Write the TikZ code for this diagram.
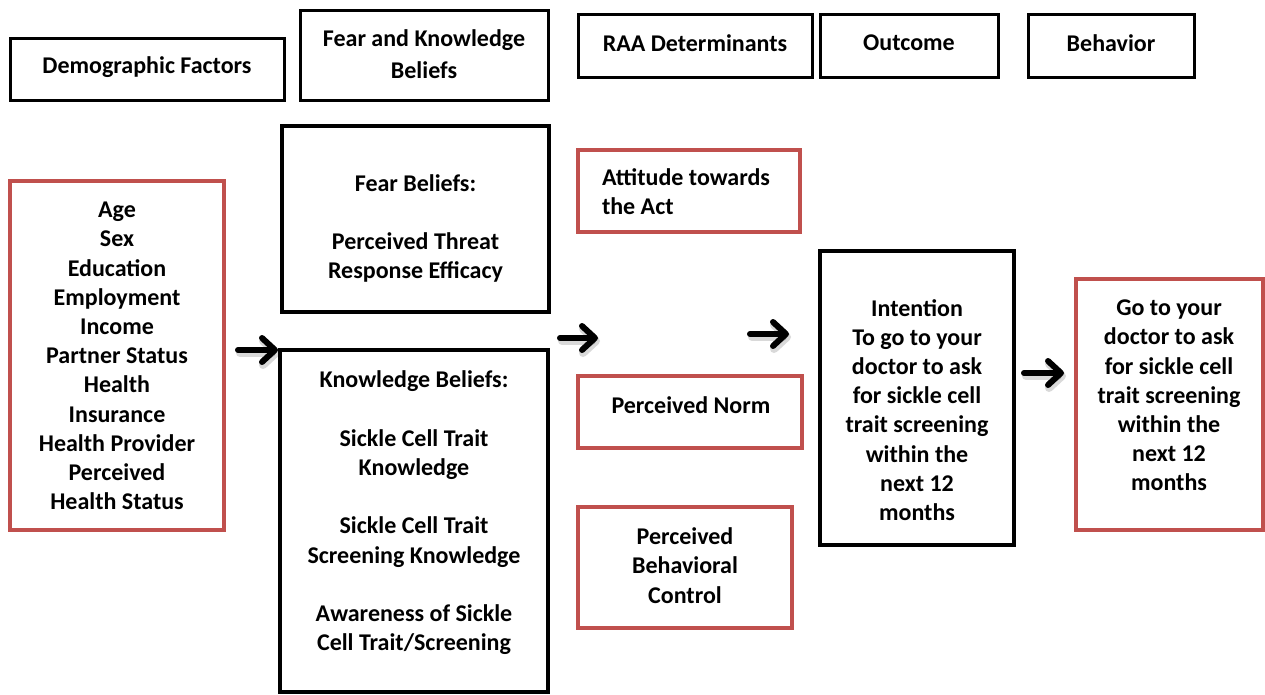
\documentclass[tikz,border=0pt]{standalone}
\usepackage{fontspec}
\setmainfont{Carlito}
\usetikzlibrary{arrows.meta}
\definecolor{boxred}{RGB}{192,80,77}
\tikzset{
  blackbox/.style={draw=black, line width=3pt, inner sep=0pt},
  redbox/.style={draw=boxred, line width=3.5pt, inner sep=0pt},
  txt/.style={font=\fontsize{24}{29.2}\selectfont\bfseries, align=center, inner sep=0pt},
  flow/.style={line width=6pt, line cap=round, -{Straight Barb[length=13pt,width=24pt,round]}},
  flowshadow/.style={flow, draw=black, opacity=0.15, line width=8pt}
}
\begin{document}
\begin{tikzpicture}[x=1pt,y=-1pt]
\useasboundingbox (0,0) rectangle (1265,694);

% column headings
\node[blackbox, minimum width=274, minimum height=62] (hdemo) at (147,69) {};
\node[txt] (hdemot) at (147,67) {Demographic Factors};
\node[blackbox, minimum width=248, minimum height=90] (hfear) at (424,55) {};
\node[txt, font=\fontsize{24}{32}\selectfont\bfseries] (hfeart) at (424,54) {Fear and Knowledge\\Beliefs};
\node[blackbox, minimum width=234, minimum height=63] (hraa) at (695,45.5) {};
\node[txt] (hraat) at (695,43) {RAA Determinants};
\node[blackbox, minimum width=178, minimum height=63] (hout) at (909,45.5) {};
\node[txt] (houtt) at (909,43) {Outcome};
\node[blackbox, minimum width=166, minimum height=63] (hbeh) at (1111,45.5) {};
\node[txt] (hbeht) at (1111,43) {Behavior};

% demographic factors
\node[redbox, minimum width=214, minimum height=349] (demo) at (117,355.5) {};
\node[txt] (demot) at (117,356) {Age\\Sex\\Education\\Employment\\Income\\Partner Status\\Health\\Insurance\\Health Provider\\Perceived\\Health Status};

% fear and knowledge beliefs
\node[blackbox, line width=4.5pt, minimum width=267, minimum height=186] (fear) at (415.5,219) {};
\node[txt] (feart) at (415.5,228.5) {Fear Beliefs:\\[29.2pt]Perceived Threat\\Response Efficacy};
\node[blackbox, line width=4pt, minimum width=268, minimum height=342] (know) at (414,521) {};
\node[txt] (knowt) at (414,513) {Knowledge Beliefs:\\[29.2pt]Sickle Cell Trait\\Knowledge\\[29.2pt]Sickle Cell Trait\\Screening Knowledge\\[29.2pt]Awareness of Sickle\\Cell Trait/Screening};

% RAA determinants
\node[redbox, minimum width=222, minimum height=82] (att) at (689,191) {};
\node[txt, align=left] (attt) at (686,191.5) {Attitude towards\\the Act};
\node[redbox, minimum width=224, minimum height=72] (norm) at (690,412) {};
\node[txt] (normt) at (691,405) {Perceived Norm};
\node[redbox, minimum width=214, minimum height=121] (pbc) at (685,567.5) {};
\node[txt] (pbct) at (685,565.5) {Perceived\\Behavioral\\Control};

% outcome
\node[blackbox, line width=3.5pt, minimum width=194, minimum height=294] (int) at (917,398) {};
\node[txt] (intt) at (917,410) {Intention\\To go to your\\doctor to ask\\for sickle cell\\trait screening\\within the\\next 12\\months};

% behavior
\node[redbox, minimum width=187, minimum height=251] (beh) at (1169.5,404.5) {};
\node[txt] (beht) at (1169,395.5) {Go to your\\doctor to ask\\for sickle cell\\trait screening\\within the\\next 12\\months};

% arrow end points
\coordinate (a1s) at (238,350);  \coordinate (a1e) at (278,350);
\coordinate (a2s) at (560,338);  \coordinate (a2e) at (598,338);
\coordinate (a3s) at (750,334);  \coordinate (a3e) at (789,334);
\coordinate (a4s) at (1024,373); \coordinate (a4e) at (1064,373);

% soft drop shadows under the arrows
\foreach \s/\e in {a1s/a1e, a2s/a2e, a3s/a3e, a4s/a4e}
  \draw[flowshadow, transform canvas={xshift=2pt,yshift=-3pt}] (\s) -- (\e);
% arrows
\foreach \s/\e in {a1s/a1e, a2s/a2e, a3s/a3e, a4s/a4e}
  \draw[flow] (\s) -- (\e);
\end{tikzpicture}
\end{document}
